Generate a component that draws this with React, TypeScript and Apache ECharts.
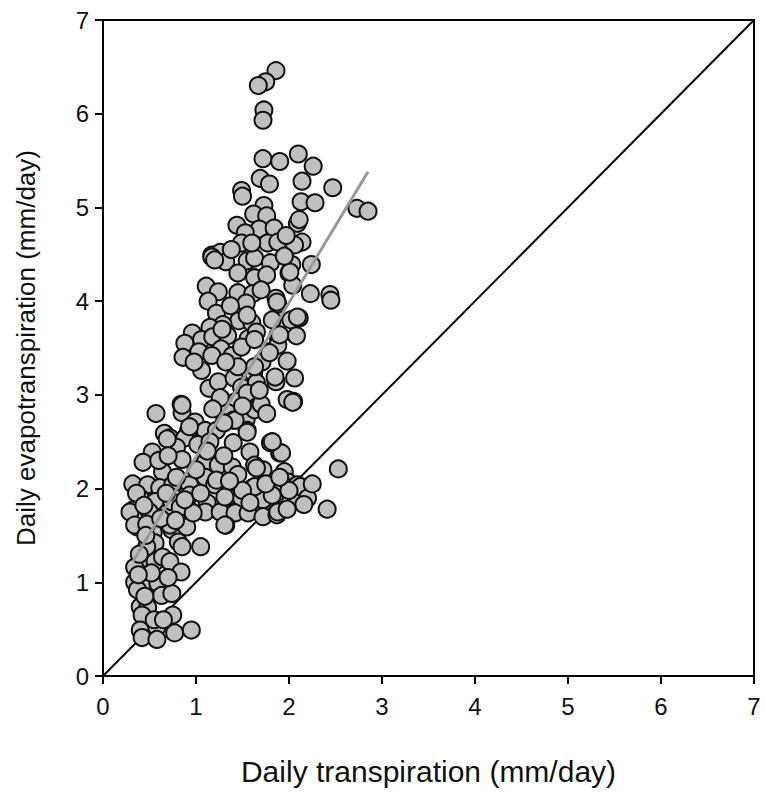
import React, { useEffect, useRef } from "react";
import * as echarts from "echarts";

const xTicks = [0, 1, 2, 3, 4, 5, 6, 7];
const yTicks = [0, 1, 2, 3, 4, 5, 6, 7];

const transpiration: number[] = [
  1.86, 1.75, 1.67, 1.73, 1.72, 1.72, 1.90, 2.10, 2.26, 1.69, 1.79, 2.14, 2.47, 1.49, 1.50, 2.73, 2.85, 2.13, 2.28, 1.73,
  1.62, 1.76, 2.09, 2.11, 1.44, 1.68, 1.84, 1.53, 1.49, 1.77, 1.88, 2.14, 2.06, 1.17, 1.26,
  1.17, 1.32, 1.55, 1.63, 1.80, 2.03, 2.24, 1.45, 1.63, 1.76, 2.00, 2.04, 1.11, 1.24, 1.45, 1.61, 1.86, 2.23, 2.44, 2.45,
  1.13, 1.54, 1.88, 1.22, 1.46, 1.29, 1.60, 1.82, 2.02, 2.11, 1.15, 0.96, 1.06, 1.18, 1.34, 1.56, 1.65, 1.88, 2.08, 0.88,
  0.86, 1.03, 1.27, 1.17, 1.39, 1.49, 1.79, 1.88, 1.98, 1.71, 1.06, 1.14, 1.24, 1.41, 1.49, 1.62, 1.65, 1.86, 2.06, 1.27,
  1.43, 1.55, 1.98, 2.05, 0.84, 0.57, 0.85, 0.99, 1.34, 1.40, 1.54, 1.63, 1.55, 1.10, 1.22, 0.92, 0.66, 0.72, 0.88, 1.40, 1.82,
  1.63, 1.79, 1.90, 1.63, 2.01, 1.87, 2.09, 1.85, 2.04, 0.85, 1.26, 1.42, 0.93, 1.02, 1.15, 0.53, 0.79,
  0.43, 0.69, 0.85, 0.64, 1.55, 1.80, 1.90, 1.58, 1.10, 1.24, 1.39, 1.63, 1.72, 1.95, 2.53, 0.32, 0.48, 0.61, 0.75, 0.96,
  1.10, 1.20, 1.42, 1.61, 1.99, 2.09, 2.14, 0.40, 0.56, 0.77, 1.12, 1.34, 1.49, 1.72, 1.85, 2.08, 0.32, 0.34, 0.54, 0.70,
  0.93, 1.10, 1.26, 1.42, 1.56, 1.72, 1.87, 1.32, 2.41, 0.37, 0.54, 0.74, 0.90, 0.81, 1.05, 0.56, 0.45, 0.56, 0.34, 0.64,
  0.72, 0.84, 0.34, 0.50, 0.59, 0.37, 0.63, 0.74, 0.40, 0.48, 0.75, 0.42, 0.40, 0.58, 0.42, 0.58, 0.77, 0.95,
  0.93, 0.79, 1.22, 0.74, 0.93, 1.31, 0.29, 0.50, 0.83, 0.97, 1.65, 1.93, 2.12, 1.82, 1.63, 1.88, 1.92, 1.82, 0.72, 1.31,
  0.34, 0.47, 0.47, 0.39, 0.52, 0.45, 0.55, 0.65, 1.00, 0.60, 0.70, 1.30, 1.45, 1.50, 1.75, 0.68, 0.88, 1.05, 0.62, 0.78,
  0.85, 0.70, 1.12, 1.30, 1.50, 1.70, 1.45, 1.32, 0.98, 1.55, 1.37, 1.70, 1.95, 1.38, 1.60, 1.97, 1.68, 1.76, 1.18, 1.36,
  1.58, 2.20, 2.25, 1.98, 2.00, 0.36, 0.44, 0.38, 0.46, 1.20, 1.28, 1.90, 2.16,
];

const evapotranspiration: number[] = [
  6.46, 6.34, 6.30, 6.04, 5.93, 5.52, 5.49, 5.57, 5.44, 5.31, 5.25, 5.28, 5.21, 5.18, 5.12, 4.99, 4.96, 5.06, 5.05, 5.02,
  4.93, 4.91, 4.83, 4.87, 4.81, 4.77, 4.78, 4.73, 4.62, 4.62, 4.63, 4.63, 4.60, 4.49, 4.52,
  4.47, 4.42, 4.43, 4.46, 4.41, 4.39, 4.39, 4.30, 4.25, 4.28, 4.30, 4.17, 4.16, 4.10, 4.09, 4.08, 4.03, 4.08, 4.07, 4.01,
  4.00, 3.98, 3.97, 3.87, 3.79, 3.75, 3.77, 3.80, 3.80, 3.82, 3.72, 3.66, 3.59, 3.62, 3.63, 3.60, 3.67, 3.63, 3.63, 3.55,
  3.40, 3.46, 3.49, 3.42, 3.42, 3.51, 3.46, 3.53, 3.36, 3.35, 3.26, 3.07, 3.14, 3.18, 3.08, 3.23, 3.13, 3.14, 3.18, 2.96,
  2.93, 3.02, 2.95, 2.93, 2.90, 2.80, 2.81, 2.71, 2.81, 2.73, 2.74, 2.84, 2.62, 2.62, 2.62, 2.62, 2.59, 2.54, 2.54, 2.49, 2.49,
  3.30, 3.45, 3.64, 3.59, 4.31, 3.99, 3.83, 3.19, 2.92, 2.89, 2.97, 2.73, 2.66, 2.47, 2.50, 2.39, 2.44,
  2.28, 2.53, 2.31, 2.18, 2.60, 2.49, 2.38, 2.39, 2.28, 2.25, 2.23, 2.25, 2.20, 2.18, 2.21, 2.05, 2.04, 2.01, 2.04, 2.04,
  2.12, 2.04, 2.06, 2.01, 2.07, 2.04, 1.96, 1.90, 1.86, 1.90, 1.85, 1.91, 1.90, 1.88, 1.93, 1.91, 1.77, 1.72, 1.70, 1.75,
  1.77, 1.75, 1.75, 1.74, 1.74, 1.70, 1.72, 1.61, 1.78, 1.59, 1.53, 1.56, 1.59, 1.43, 1.38, 1.42, 1.26, 1.22, 1.16, 1.27,
  1.22, 1.11, 1.00, 0.99, 0.99, 0.92, 0.86, 0.88, 0.74, 0.73, 0.65, 0.65, 0.49, 0.52, 0.41, 0.39, 0.46, 0.49,
  2.04, 2.12, 2.09, 1.86, 1.93, 1.91, 1.75, 1.75, 1.80, 1.74, 2.22, 2.04, 2.02, 1.93, 2.02, 1.75, 2.38, 2.50, 1.61, 1.61,
  1.61, 1.62, 1.38, 1.30, 1.10, 0.85, 0.60, 0.60, 2.20, 2.30, 2.35, 2.35, 2.15, 1.98, 2.05, 1.95, 1.88, 1.95, 1.68, 1.66,
  1.38, 1.05, 2.40, 2.70, 2.88, 2.90, 3.30, 3.35, 3.35, 3.85, 3.95, 4.12, 4.48, 4.55, 4.62, 4.70, 3.05, 2.80, 2.85, 2.08,
  1.85, 1.90, 2.05, 1.78, 1.98, 1.95, 1.82, 1.08, 1.50, 4.44, 3.70, 2.12, 1.83,
];

const fitX = [0.32, 2.85];
const fitY = [1.22, 5.38];
const oneToOne = [0, 7];

const FONT = "'Liberation Sans', Arial, sans-serif";

export default function App() {
  const ref = useRef<HTMLDivElement>(null);

  useEffect(() => {
    if (!ref.current) return;
    const chart = echarts.init(ref.current, null, { renderer: "svg" });
    const n = Math.min(transpiration.length, evapotranspiration.length);
    const points: number[][] = [];
    for (let i = 0; i < n; i++) points.push([transpiration[i], evapotranspiration[i]]);

    chart.setOption({
      animation: false,
      backgroundColor: "#ffffff",
      grid: {
        left: 103,
        right: 11,
        top: 20,
        bottom: 117,
        show: true,
        borderColor: "#000",
        borderWidth: 2,
        backgroundColor: "transparent",
      },
      xAxis: {
        type: "value",
        min: xTicks[0],
        max: xTicks[xTicks.length - 1],
        interval: 1,
        name: "Daily transpiration (mm/day)",
        nameLocation: "middle",
        nameGap: 80,
        nameTextStyle: { fontFamily: FONT, fontSize: 30, color: "#111" },
        axisLine: { show: true, onZero: false, lineStyle: { color: "#000", width: 2 } },
        axisTick: { show: true, inside: false, length: 8, lineStyle: { color: "#000", width: 2 } },
        axisLabel: { margin: 18, fontFamily: FONT, fontSize: 24, color: "#111" },
        splitLine: { show: false },
      },
      yAxis: {
        type: "value",
        min: yTicks[0],
        max: yTicks[yTicks.length - 1],
        interval: 1,
        name: "Daily evapotranspiration (mm/day)",
        nameLocation: "middle",
        nameGap: 64,
        nameTextStyle: { fontFamily: FONT, fontSize: 26, color: "#111" },
        axisLine: { show: true, onZero: false, lineStyle: { color: "#000", width: 2 } },
        axisTick: { show: true, inside: false, length: 8, lineStyle: { color: "#000", width: 2 } },
        axisLabel: { margin: 14, fontFamily: FONT, fontSize: 24, color: "#111" },
        splitLine: { show: false },
      },
      series: [
        {
          type: "line",
          data: [
            [oneToOne[0], oneToOne[0]],
            [oneToOne[1], oneToOne[1]],
          ],
          symbol: "none",
          lineStyle: { color: "#000", width: 2 },
          z: 1,
          silent: true,
        },
        {
          type: "scatter",
          data: points,
          symbol: "circle",
          symbolSize: 17,
          itemStyle: { color: "#c0c0c0", borderColor: "#111", borderWidth: 2, opacity: 1 },
          z: 2,
        },
        {
          type: "line",
          data: [
            [fitX[0], fitY[0]],
            [fitX[1], fitY[1]],
          ],
          symbol: "none",
          lineStyle: { color: "#999999", width: 3 },
          z: 3,
          silent: true,
        },
      ],
    });
    return () => chart.dispose();
  }, []);

  return (
    <div
      ref={ref}
      style={{ position: "absolute", left: 0, top: 0, width: 765, height: 793 }}
    />
  );
}
